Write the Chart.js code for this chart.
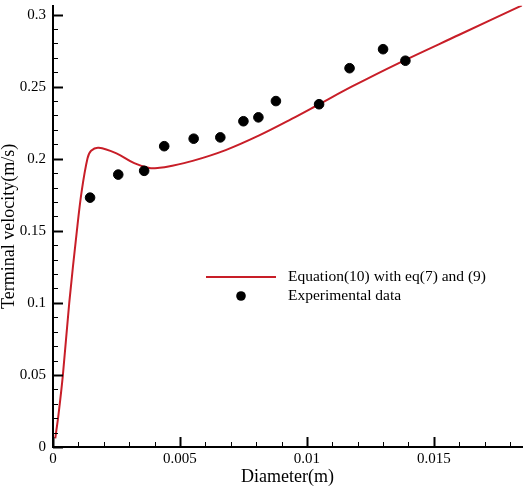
<!DOCTYPE html>
<html>
<head>
<meta charset="utf-8">
<script src="https://cdn.jsdelivr.net/npm/chart.js@4/dist/chart.umd.min.js"></script>
<style>
  body { margin: 0; background: #fff; }
  #wrap { width: 528px; height: 486px; position: relative; }
</style>
</head>
<body>
<div id="wrap"><canvas id="chart"></canvas></div>
<script>
// model curve, Equation(10) with eq(7) and (9)
const curveX = [0.00009, 0.00022, 0.00039, 0.00064, 0.00094, 0.00113, 0.00136, 0.0015, 0.0018, 0.0025, 0.0032, 0.0038, 0.0042, 0.0046, 0.0055, 0.0068, 0.0081, 0.0094, 0.01048, 0.0118, 0.0136, 0.016, 0.0185]
const curveY = [0.006, 0.023, 0.05, 0.1, 0.15, 0.1775, 0.2003, 0.2055, 0.2076, 0.2037, 0.1969, 0.1935, 0.1937, 0.1948, 0.1985, 0.206, 0.216, 0.2276, 0.2378, 0.2503, 0.2662, 0.2860, 0.3066]

// experimental data
const expX = [0.00146, 0.00257, 0.00359, 0.00438, 0.00554, 0.00659, 0.0075, 0.00809, 0.00878, 0.01048, 0.01168, 0.0130, 0.01388]
const expY = [0.173, 0.189, 0.1916, 0.2087, 0.2139, 0.2148, 0.226, 0.2287, 0.240, 0.2378, 0.2628, 0.276, 0.268]

const xTicks = [0, 0.005, 0.01, 0.015]
const yTicks = [0, 0.05, 0.1, 0.15, 0.2, 0.25, 0.3]

const legendLabels = ['Equation(10) with eq(7) and (9)', 'Experimental data']

const red = '#c81e28'
const serif = "'Liberation Serif', 'Times New Roman', serif"

function toPts(xs, ys) {
    let pts = []
    for (let i = 0; i < xs.length; i++)
        pts.push({x: xs[i], y: ys[i]})
    return pts
}

function fmt(v) {
    return String(Math.round(v * 1000) / 1000)
}

// inward ticks, major + minor, and the legend box
const tickPlugin = {
    id: 'inTicks',
    afterDraw(chart) {
        const ctx = chart.ctx
        const xs = chart.scales.x, ys = chart.scales.y
        const area = chart.chartArea
        ctx.save()
        ctx.strokeStyle = '#000'
        for (let v = 0; v <= 0.0185 + 1e-9; v += 0.001) {
            const major = Math.abs(v / 0.005 - Math.round(v / 0.005)) < 1e-6
            const px = Math.round(xs.getPixelForValue(v)) + 0.5
            ctx.lineWidth = major ? 2 : 1
            ctx.beginPath()
            ctx.moveTo(px, area.bottom)
            ctx.lineTo(px, area.bottom - (major ? 10 : 5))
            ctx.stroke()
        }
        for (let v = 0; v <= 0.306 + 1e-9; v += 0.01) {
            const major = Math.abs(v / 0.05 - Math.round(v / 0.05)) < 1e-6
            const py = Math.round(ys.getPixelForValue(v)) + 0.5
            ctx.lineWidth = major ? 2 : 1
            ctx.beginPath()
            ctx.moveTo(area.left, py)
            ctx.lineTo(area.left + (major ? 10 : 5), py)
            ctx.stroke()
        }

        const lx = 206, ly = 277
        ctx.strokeStyle = red
        ctx.lineWidth = 2
        ctx.beginPath()
        ctx.moveTo(lx, ly)
        ctx.lineTo(lx + 70, ly)
        ctx.stroke()
        ctx.fillStyle = '#000'
        ctx.beginPath()
        ctx.arc(lx + 35, ly + 19, 4.8, 0, Math.PI * 2)
        ctx.fill()
        ctx.font = '15.5px ' + serif
        ctx.textBaseline = 'middle'
        ctx.fillText(legendLabels[0], 288, ly)
        ctx.fillText(legendLabels[1], 288, ly + 19)
        ctx.restore()
    }
}

const data = {
    datasets: [{
            label: legendLabels[0],
            data: toPts(curveX, curveY),
            borderColor: red,
            borderWidth: 2,
            pointRadius: 0,
            showLine: true,
            tension: 0.35,
            order: 2
        }, {
            label: legendLabels[1],
            data: toPts(expX, expY),
            backgroundColor: '#000',
            borderColor: '#000',
            pointRadius: 4.8,
            showLine: false,
            order: 1
        }]
}

const config = {
    type: 'scatter',
    data: data,
    options: {
        responsive: true,
        maintainAspectRatio: false,
        animation: false,
        layout: {padding: {top: 0, right: 3, bottom: 0, left: 0}},
        plugins: {
            legend: {display: false},
            tooltip: {enabled: false}
        },
        scales: {
            x: {
                type: 'linear',
                min: 0,
                max: 0.01848,
                grid: {display: false, drawTicks: false},
                border: {display: true, color: '#000', width: 2},
                afterBuildTicks: s => { s.ticks = xTicks.map(v => ({value: v})) },
                afterFit: s => { s.height = 39 },
                ticks: {
                    padding: 5,
                    color: '#000',
                    maxRotation: 0,
                    font: {family: serif, size: 15, lineHeight: 1},
                    callback: v => fmt(v)
                },
                title: {
                    display: true,
                    text: 'Diameter(m)',
                    color: '#000',
                    padding: {top: 1, bottom: 0},
                    font: {family: serif, size: 18, lineHeight: 1}
                }
            },
            y: {
                type: 'linear',
                min: 0,
                max: 0.3061,
                grid: {display: false, drawTicks: false},
                border: {display: true, color: '#000', width: 2},
                afterBuildTicks: s => { s.ticks = yTicks.map(v => ({value: v})) },
                afterFit: s => { s.width = 53; s.paddingTop = 0; s.paddingBottom = 0 },
                ticks: {
                    padding: 7,
                    color: '#000',
                    font: {family: serif, size: 15, lineHeight: 1},
                    callback: v => fmt(v)
                },
                title: {
                    display: true,
                    text: 'Terminal velocity(m/s)',
                    color: '#000',
                    padding: {top: 0, bottom: 0},
                    font: {family: serif, size: 18, lineHeight: 1}
                }
            }
        }
    },
    plugins: [tickPlugin]
}

let ctx = document.getElementById('chart').getContext('2d')
new Chart(ctx, config)
</script>
</body>
</html>
